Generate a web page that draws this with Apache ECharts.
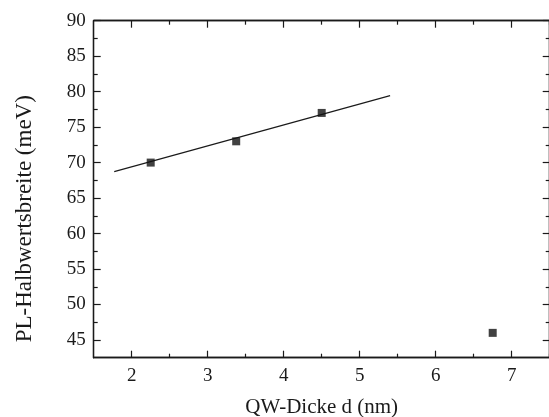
<!DOCTYPE html>
<html>
<head>
<meta charset="utf-8">
<script src="https://cdn.jsdelivr.net/npm/echarts@6/dist/echarts.min.js"></script>
<style>html,body{margin:0;padding:0;background:#fff;}#c{width:549px;height:417px;}</style>
</head>
<body>
<div id="c"></div>
<script>
// Data
const pointsX = [2.25, 3.375, 4.5, 6.75];
const pointsY = [70, 73, 77, 46];
const fitX = [1.77, 5.40];
const fitY = [68.73, 79.44];
const xMajorTicks = [2, 3, 4, 5, 6, 7];
const xMinorTicks = [2.5, 3.5, 4.5, 5.5, 6.5, 7.5];
const yMajorTicks = [45, 50, 55, 60, 65, 70, 75, 80, 85, 90];
const yMinorTicks = [47.5, 52.5, 57.5, 62.5, 67.5, 72.5, 77.5, 82.5, 87.5];
const xRange = [1.5, 7.5];
const yRange = [42.5, 90];
const xTitle = 'QW-Dicke d (nm)';
const yTitle = 'PL-Halbwertsbreite (meV)';

const FONT = '"Liberation Serif", "Times New Roman", serif';
const INK = '#1a1a1a';
const axisLine = { show: true, onZero: false, lineStyle: { color: INK, width: 1.3 } };

function xAx(pos, ticks, len, labels, name) {
  return {
    type: 'value', position: pos, min: xRange[0], max: xRange[1],
    axisLine: axisLine, splitLine: { show: false },
    axisTick: { show: true, inside: true, length: len, customValues: ticks, lineStyle: { color: INK, width: 1.2 } },
    axisLabel: labels ? { show: true, customValues: ticks, margin: 9, fontFamily: FONT, fontSize: 19, color: INK } : { show: false },
    name: name || '', nameLocation: 'middle', nameGap: 39,
    nameTextStyle: { fontFamily: FONT, fontSize: 21, color: INK }
  };
}
function yAx(pos, ticks, len, labels, name) {
  return {
    type: 'value', position: pos, min: yRange[0], max: yRange[1],
    axisLine: axisLine, splitLine: { show: false },
    axisTick: { show: true, inside: true, length: len, customValues: ticks, lineStyle: { color: INK, width: 1.2 } },
    axisLabel: labels ? { show: true, customValues: ticks, margin: 8, fontFamily: FONT, fontSize: 19, color: INK } : { show: false },
    name: name || '', nameLocation: 'middle', nameGap: 57, nameRotate: 90,
    nameTextStyle: { fontFamily: FONT, fontSize: 23, color: INK, padding: [0, 59, 0, 0] }
  };
}

const chart = echarts.init(document.getElementById('c'), null, { renderer: 'canvas' });
chart.setOption({
  animation: false,
  backgroundColor: '#fff',
  grid: { left: 93.7, right: -0.7, top: 20.7, bottom: 59.3, containLabel: false, outerBoundsMode: 'none' },
  xAxis: [
    xAx('bottom', xMajorTicks, 7, true, xTitle),
    xAx('bottom', xMinorTicks, 4, false),
    xAx('top', xMajorTicks, 7, false),
    xAx('top', xMinorTicks, 4, false)
  ],
  yAxis: [
    yAx('left', yMajorTicks, 7, true, yTitle),
    yAx('left', yMinorTicks, 4, false),
    yAx('right', yMajorTicks, 7, false),
    yAx('right', yMinorTicks, 4, false)
  ],
  series: [
    {
      type: 'line', xAxisIndex: 0, yAxisIndex: 0,
      data: fitX.map((x, i) => [x, fitY[i]]),
      showSymbol: false, symbol: 'none',
      lineStyle: { color: INK, width: 1.1 }, z: 2
    },
    {
      type: 'scatter', xAxisIndex: 0, yAxisIndex: 0,
      data: pointsX.map((x, i) => [x, pointsY[i]]),
      symbol: 'rect', symbolSize: 8,
      itemStyle: { color: '#111' }, z: 3
    }
  ]
});
</script>
</body>
</html>
